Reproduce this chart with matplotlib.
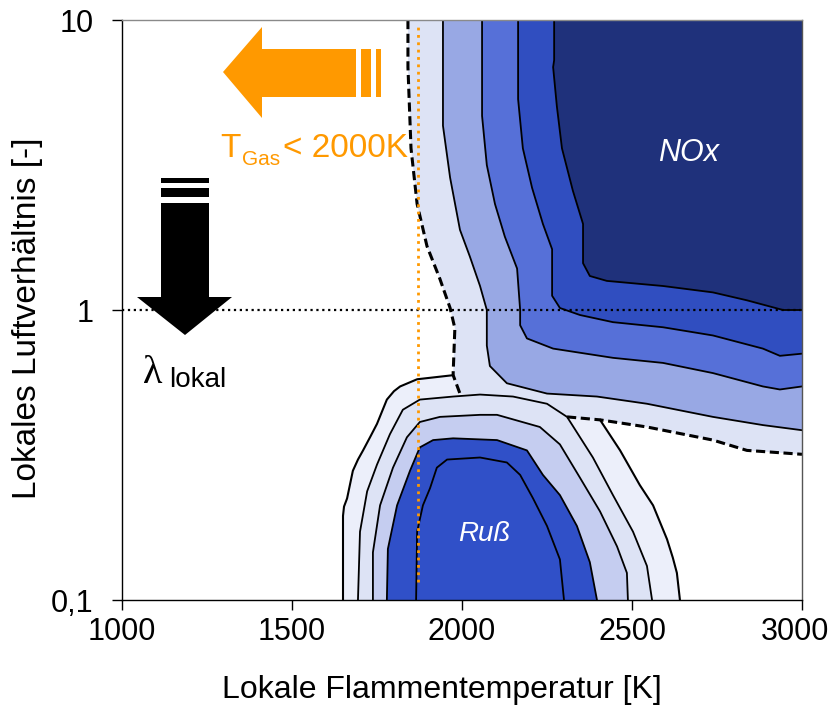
import matplotlib.pyplot as plt
from matplotlib.patches import Polygon
from matplotlib.ticker import NullLocator
from matplotlib.transforms import ScaledTranslation

plt.rcParams["font.family"] = ["Liberation Sans", "DejaVu Sans"]

# ── Contour data: flame temperature [K] vs. local air ratio [-] ───────────────

# NOx levels, outermost (dashed) to innermost
nox0a_T   = [1841, 1841, 1850, 1868, 1897, 1935, 1965, 1979, 1974, 1974, 1994]
nox0a_lam = [10, 6.88, 3.61, 2.32, 1.66, 1.28, 1.016, 0.865, 0.606, 0.596, 0.515]
nox0b_T   = [2309, 2406, 2544, 2738, 2838, 3000]
nox0b_lam = [0.428, 0.418, 0.395, 0.356, 0.328, 0.318]

nox1_T   = [1944, 1944, 1965, 1994, 2023, 2053, 2073, 2073, 2082, 2132, 2250, 2397, 2544, 2738, 2885, 3000]
nox1_lam = [10, 4.32, 2.86, 1.89, 1.53, 1.21, 1.0, 0.754, 0.641, 0.559, 0.515, 0.503, 0.475, 0.428, 0.401, 0.385]

nox2_T   = [2059, 2059, 2073, 2097, 2126, 2162, 2171, 2171, 2191, 2268, 2444, 2591, 2738, 2885, 2935, 3000]
nox2_lam = [10, 4.67, 3.16, 2.32, 1.79, 1.39, 1.0, 0.886, 0.798, 0.736, 0.684, 0.657, 0.606, 0.545, 0.532, 0.545]

nox3_T   = [2165, 2165, 2179, 2206, 2238, 2265, 2265, 2288, 2347, 2444, 2591, 2738, 2885, 2935, 3000]
nox3_lam = [10, 5.33, 3.61, 2.64, 1.98, 1.62, 1.12, 1.016, 0.961, 0.908, 0.872, 0.817, 0.736, 0.695, 0.707]

nox4_T   = [2271, 2271, 2268, 2279, 2294, 2326, 2356, 2356, 2376, 2426, 2591, 2738, 2838, 2944, 3000]
nox4_lam = [10, 7.27, 6.88, 5.04, 3.61, 2.58, 1.98, 1.45, 1.31, 1.26, 1.21, 1.15, 1.08, 1.0, 1.0]

# soot levels, outermost to innermost
soot0a_T   = [1650, 1650, 1653, 1662, 1679, 1694, 1709, 1730, 1750, 1779, 1800, 1818, 1868, 1974]
soot0a_lam = [0.1, 0.195, 0.210, 0.224, 0.279, 0.305, 0.328, 0.365, 0.405, 0.491, 0.525, 0.545, 0.577, 0.596]
soot0b_T   = [2406, 2465, 2523, 2562, 2603, 2620, 2632, 2641]
soot0b_lam = [0.418, 0.328, 0.249, 0.212, 0.162, 0.140, 0.124, 0.1]

soot1_T   = [1694, 1700, 1721, 1750, 1788, 1826, 1876, 1974, 2053, 2150, 2250, 2309, 2385, 2444, 2503, 2544, 2559]
soot1_lam = [0.1, 0.172, 0.237, 0.293, 0.373, 0.453, 0.491, 0.503, 0.511, 0.503, 0.475, 0.428, 0.310, 0.230, 0.172, 0.131, 0.1]

soot2_T   = [1738, 1738, 1759, 1797, 1838, 1876, 1935, 2053, 2103, 2229, 2288, 2347, 2406, 2456, 2485, 2488]
soot2_lam = [0.1, 0.146, 0.212, 0.286, 0.364, 0.411, 0.428, 0.435, 0.435, 0.395, 0.344, 0.264, 0.202, 0.153, 0.124, 0.1]

soot3_T   = [1779, 1782, 1809, 1847, 1876, 1915, 1974, 2103, 2191, 2238, 2288, 2338, 2376, 2397]
soot3_lam = [0.1, 0.150, 0.212, 0.279, 0.336, 0.356, 0.361, 0.356, 0.328, 0.270, 0.230, 0.180, 0.135, 0.1]

soot4_T   = [1865, 1868, 1885, 1906, 1926, 1956, 2053, 2132, 2171, 2209, 2250, 2288, 2300]
soot4_lam = [0.1, 0.172, 0.212, 0.243, 0.286, 0.305, 0.310, 0.298, 0.270, 0.224, 0.180, 0.138, 0.1]

T_GAS_LIMIT = 1870     # orange dotted marker line
x_ticks  = [1000, 1500, 2000, 2500, 3000]
y_ticks  = [0.1, 1, 10]
y_labels = ["0,1", "1", "10"]

NOX_COLORS  = ["#dde3f5", "#98a8e4", "#5670d8", "#304ec0", "#1f317b"]
SOOT_COLORS = ["#eceffa", "#dde3f5", "#c5cdf0", "#3050c8", "#3050c8"]
ORANGE = "#ff9900"

# ── Figure ────────────────────────────────────────────────────────────────────

W, H = 831, 718
fig = plt.figure(figsize=(W / 100, H / 100), dpi=100)
ax = fig.add_axes([122 / W, 1 - 600 / H, 680 / W, 580 / H])
ax.set_yscale("log")
ax.set_xlim(1000, 3000)
ax.set_ylim(0.1, 10)


def fig_xy(pts):
    return [(x / W, 1 - y / H) for x, y in pts]


# lightest soot band first, then the outer NOx band on top of it
ax.fill(soot0a_T + soot0b_T, soot0a_lam + soot0b_lam, color=SOOT_COLORS[0], lw=0)

mid = [(t, l) for t, l in zip(soot1_T, soot1_lam) if nox0a_T[-1] < t < nox0b_T[0]]
n0_T = nox0a_T + [p[0] for p in mid] + nox0b_T + [3000]
n0_lam = nox0a_lam + [p[1] for p in mid] + nox0b_lam + [10]
ax.fill(n0_T, n0_lam, color=NOX_COLORS[0], lw=0)

for T, lam, c in [(soot1_T, soot1_lam, SOOT_COLORS[1]),
                  (soot2_T, soot2_lam, SOOT_COLORS[2]),
                  (soot3_T, soot3_lam, SOOT_COLORS[3]),
                  (soot4_T, soot4_lam, SOOT_COLORS[4])]:
    ax.fill(T, lam, color=c, lw=0)
    ax.plot(T, lam, color="black", lw=1.3)

for T, lam, c in [(nox1_T, nox1_lam, NOX_COLORS[1]),
                  (nox2_T, nox2_lam, NOX_COLORS[2]),
                  (nox3_T, nox3_lam, NOX_COLORS[3]),
                  (nox4_T, nox4_lam, NOX_COLORS[4])]:
    ax.fill(T + [3000], lam + [10], color=c, lw=0)
    ax.plot(T, lam, color="black", lw=1.3)

ax.plot(soot0a_T, soot0a_lam, color="black", lw=1.5)
ax.plot(soot0b_T, soot0b_lam, color="black", lw=1.5)
ax.plot(nox0a_T, nox0a_lam, color="black", lw=2.2, dashes=(3, 1.5))
ax.plot(nox0b_T, nox0b_lam, color="black", lw=2.2, dashes=(3, 1.5))

# reference lines
ax.axhline(1, color="black", ls=":", lw=1.6)
ax.plot([T_GAS_LIMIT, T_GAS_LIMIT], [0.115, 9.5], color=ORANGE, ls=":", lw=2)

ax.text(2665, 3.47, "NOx", color="white", fontsize=22, style="italic",
        ha="center", va="center")
ax.text(2065, 0.169, "Ruß", color="white", fontsize=20, style="italic",
        ha="center", va="center")

# ── Axes styling ──────────────────────────────────────────────────────────────

ax.set_xticks(x_ticks)
ax.set_yticks(y_ticks, labels=y_labels)
ax.yaxis.set_minor_locator(NullLocator())
ax.tick_params(direction="out", length=7.5, width=1, labelsize=22)
ax.tick_params(axis="x", pad=5)
ax.tick_params(axis="y", pad=13)
ax.spines["top"].set_color("#8a8a8a")
ax.spines["right"].set_color("#555555")
for s in ax.spines.values():
    s.set_linewidth(1)

# nudge the last x label so it stays inside the canvas
last = ax.get_xticklabels()[-1]
last.set_transform(last.get_transform() + ScaledTranslation(-5 / 72, 0, fig.dpi_scale_trans))

fig.text(442 / W, 1 - 690 / H, "Lokale Flammentemperatur [K]",
         fontsize=23, ha="center", va="center")
fig.text(28 / W, 1 - 318 / H, "Lokales Luftverhältnis [-]",
         fontsize=24, ha="center", va="center", rotation=90)

# ── Arrows and annotations ────────────────────────────────────────────────────

fig.add_artist(Polygon(fig_xy([(223, 72), (262, 27), (262, 49), (356, 49),
                               (356, 97), (262, 97), (262, 118)]),
                       closed=True, color=ORANGE, lw=0, transform=fig.transFigure))
for x0, x1 in [(361, 371), (376, 381)]:
    fig.add_artist(Polygon(fig_xy([(x0, 49), (x1, 49), (x1, 97), (x0, 97)]),
                           closed=True, color=ORANGE, lw=0, transform=fig.transFigure))

fig.add_artist(Polygon(fig_xy([(161, 203), (209, 203), (209, 297), (232, 297),
                               (185, 335), (137, 297), (161, 297)]),
                       closed=True, color="black", lw=0, transform=fig.transFigure))
for y0, y1 in [(178, 183), (188, 197)]:
    fig.add_artist(Polygon(fig_xy([(161, y0), (209, y0), (209, y1), (161, y1)]),
                           closed=True, color="black", lw=0, transform=fig.transFigure))

fig.text(220 / W, 1 - 157 / H, "T", color=ORANGE, fontsize=24, va="baseline")
fig.text(242 / W, 1 - 165 / H, "Gas", color=ORANGE, fontsize=15, va="baseline")
fig.text(283 / W, 1 - 157 / H, "< 2000K", color=ORANGE, fontsize=24, va="baseline")

fig.text(143 / W, 1 - 383 / H, "λ", fontsize=29, va="baseline",
         family=["Liberation Serif", "DejaVu Serif"])
fig.text(169 / W, 1 - 387 / H, "lokal", fontsize=20, va="baseline")

fig.savefig("out.png", dpi=100)
